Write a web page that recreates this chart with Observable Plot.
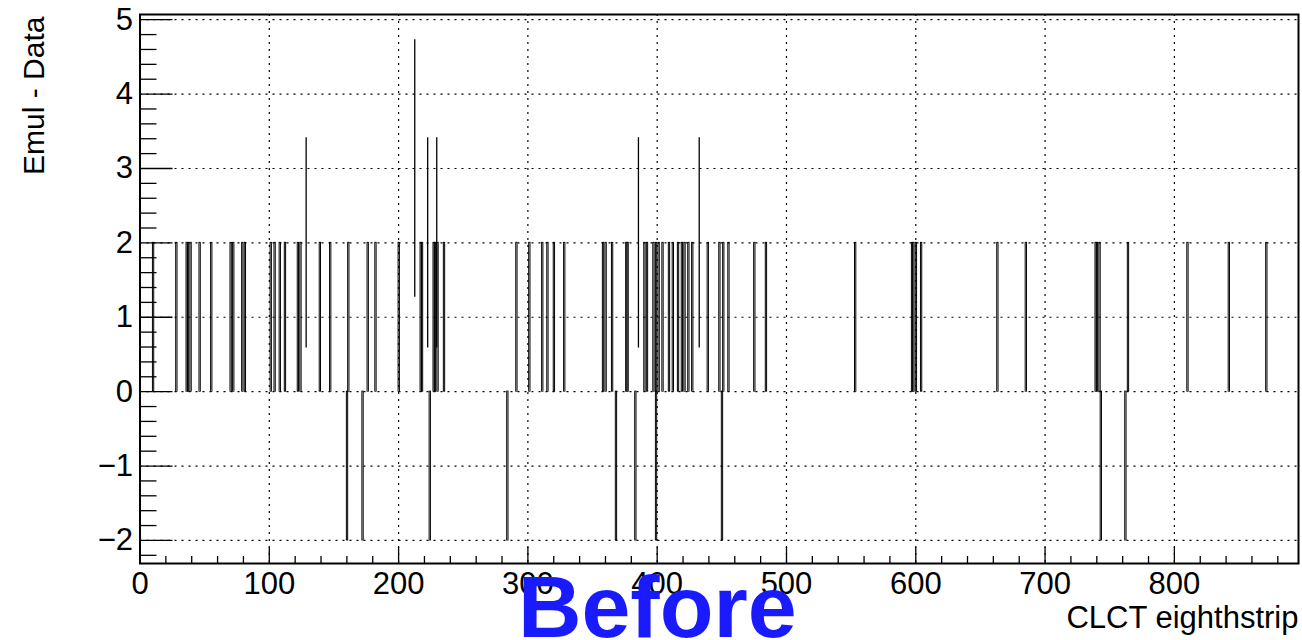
<!DOCTYPE html>
<html><head><meta charset="utf-8">
<script src="https://cdn.jsdelivr.net/npm/d3@7"></script>
<script src="https://cdn.jsdelivr.net/npm/@observablehq/plot@0.6"></script>
<style>body{margin:0;background:#fff;} #chart svg{display:block;}</style>
</head><body><div id="chart"></div>
<script>
// Bins (CLCT eighthstrip) where Emul - Data = +2
const positiveBins = [10, 28, 36, 37, 39, 46, 55, 70, 72, 79, 81, 101, 104, 108, 112, 122, 124, 139, 147, 161, 176, 182, 200, 217, 218, 227, 228, 230, 235, 291, 301, 311, 315, 320, 328, 358, 360, 365, 376, 377, 390, 392, 397, 399, 401, 404, 409, 412, 416, 419, 421, 424, 427, 439, 448, 451, 455, 475, 484, 553, 597, 598, 600, 604, 663, 685, 739, 740, 742, 764, 810, 842, 871];
const positiveValue = 2;
// Bins where Emul - Data = -2
const negativeBins = [160, 172, 224, 284, 368, 383, 399, 450, 743, 762];
const negativeValue = -2;
// Bins drawn with an error bar
const errorBins = [128, 212, 222, 229, 385, 432];
const errorValues = [2, 3, 2, 2, 2, 2];
const errorSigmas = [1.414, 1.732, 1.414, 1.414, 1.414, 1.414];
// Axis ticks
const xMajorTicks = [0, 100, 200, 300, 400, 500, 600, 700, 800];
const xMinorTicks = d3.range(20, 881, 20).filter(v => v % 100 !== 0);
const yMajorTicks = [-2, -1, 0, 1, 2, 3, 4, 5];
const yMinorTicks = d3.range(-11, 26).map(i => +(i * 0.2).toFixed(1)).filter(v => Math.abs(v - Math.round(v)) > 1e-6);

const spikes = [
  ...positiveBins.map(b => ({bin: b, value: positiveValue})),
  ...negativeBins.map(b => ({bin: b, value: negativeValue}))
];
const errors = errorBins.map((b, i) => ({bin: b, value: errorValues[i], sigma: errorSigmas[i]}));

const dotted = {stroke: "black", strokeOpacity: 1, strokeWidth: 1.2, strokeDasharray: "2,5"};
const intFormat = d => d < 0 ? "\u2212" + (-d) : String(d);

const chart = Plot.plot({
  width: 1302, height: 640,
  marginLeft: 139.5, marginRight: 4, marginTop: 14, marginBottom: 77,
  style: {fontFamily: "'Liberation Sans', Arial, Helvetica, sans-serif", color: "black", background: "white"},
  x: {domain: [0, 896], label: null},
  y: {domain: [-2.31, 5.07], label: null},
  marks: [
    Plot.gridX(xMajorTicks, dotted),
    Plot.gridY(yMajorTicks, dotted),
    Plot.rectY(spikes, {x1: "bin", x2: d => d.bin + 1, y1: 0, y2: "value", fill: "none", stroke: "black", strokeWidth: 1}),
    Plot.ruleX(errors, {x: d => d.bin + 0.5, y1: d => d.value - d.sigma, y2: d => d.value + d.sigma, stroke: "black", strokeWidth: 1.3}),
    Plot.axisY(yMajorTicks, {anchor: "left", tickSize: 33, dx: 33, fill: "none", label: null, strokeWidth: 1.3}),
    Plot.axisY(yMinorTicks, {anchor: "left", tickSize: 17, dx: 17, fill: "none", label: null, strokeWidth: 1.3}),
    Plot.axisX(xMajorTicks, {anchor: "bottom", tickSize: 16, dy: -16, fill: "none", label: null, strokeWidth: 1.3}),
    Plot.axisX(xMinorTicks, {anchor: "bottom", tickSize: 7, dy: -7, fill: "none", label: null, strokeWidth: 1.3}),
    Plot.axisY(yMajorTicks, {anchor: "left", tickSize: 0, tickPadding: 7, fontSize: 31, label: null, tickFormat: intFormat}),
    Plot.axisX(xMajorTicks, {anchor: "bottom", tickSize: 0, tickPadding: 8, fontSize: 31, label: null, tickFormat: intFormat}),
    Plot.frame({stroke: "black", strokeWidth: 2}),
    Plot.text(["Emul - Data"], {frameAnchor: "top-left", rotate: -90, textAnchor: "end", lineAnchor: "middle", dx: -106, dy: 2, fontSize: 30}),
    Plot.text(["CLCT eighthstrip"], {frameAnchor: "bottom-right", textAnchor: "end", lineAnchor: "bottom", dy: 64, fontSize: 31}),
    Plot.text(["Before"], {frameAnchor: "bottom", lineAnchor: "bottom", dx: -62, dy: 73, fontSize: 88, fontWeight: "bold", fill: "#1a1aff"})
  ]
});
document.getElementById("chart").appendChild(chart);
</script>
</body></html>
